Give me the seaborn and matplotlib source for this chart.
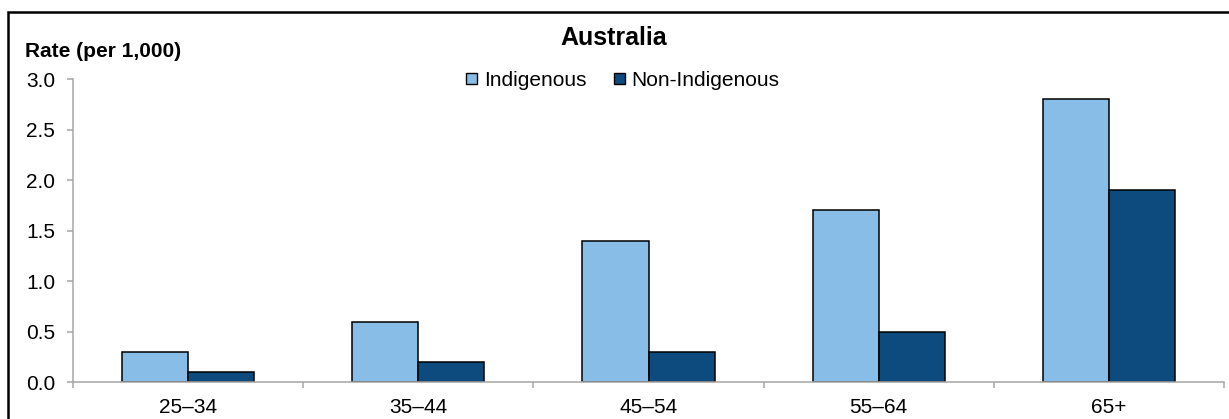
import matplotlib
matplotlib.use("Agg")
import matplotlib.pyplot as plt
import matplotlib.patches as mpatches
from matplotlib.ticker import FixedLocator
import seaborn as sns
import pandas as pd

# Rates per 1,000 by age group
age_groups = ["25–34", "35–44", "45–54", "55–64", "65+"]
indigenous = [0.3, 0.6, 1.4, 1.7, 2.8]
non_indigenous = [0.1, 0.2, 0.3, 0.5, 1.9]
series_names = ["Indigenous", "Non-Indigenous"]
colors = ["#87BDE6", "#0D4A7E"]
y_ticks = [0.0, 0.5, 1.0, 1.5, 2.0, 2.5, 3.0]

df = pd.DataFrame({
    "age": age_groups * 2,
    "rate": indigenous + non_indigenous,
    "group": [series_names[0]] * len(age_groups) + [series_names[1]] * len(age_groups),
})

sns.set_theme(style="white")
plt.rcParams["font.family"] = ["Liberation Sans", "DejaVu Sans"]
plt.rcParams["text.color"] = "black"

FS = 15
AXIS_GREY = "#A6A6A6"

fig = plt.figure(figsize=(12.29, 4.19), dpi=100)
ax = fig.add_axes([0.0594, 0.0876, 0.9366, 0.7238])

sns.barplot(data=df, x="age", y="rate", hue="group", order=age_groups,
            hue_order=series_names, palette=colors, width=0.574,
            edgecolor="black", linewidth=1.1, saturation=1, ax=ax, legend=False)

ax.set_xlim(-0.5, len(age_groups) - 0.5)
ax.set_ylim(0, 3.0)
ax.set_yticks(y_ticks)
ax.set_yticklabels([f"{v:.1f}" for v in y_ticks], fontsize=FS)
ax.set_xlabel("")
ax.set_ylabel("")
ax.tick_params(axis="x", which="major", length=0, labelsize=FS, pad=11)
ax.xaxis.set_minor_locator(FixedLocator([i - 0.5 for i in range(len(age_groups) + 1)]))
ax.tick_params(axis="x", which="minor", bottom=True, length=4.3, width=1.1, color=AXIS_GREY)
ax.tick_params(axis="y", left=True, length=4.3, width=1.1, color=AXIS_GREY, labelsize=FS, pad=8.5)
for t in ax.get_xticklabels() + ax.get_yticklabels():
    t.set_color("black")

for side in ["top", "right"]:
    ax.spines[side].set_visible(False)
for side in ["left", "bottom"]:
    ax.spines[side].set_color(AXIS_GREY)
    ax.spines[side].set_linewidth(1.1)

fig.text(0.4995, 0.8926, "Australia", ha="center", va="baseline", fontsize=18,
         fontweight="bold", color="black")
fig.text(0.0203, 0.8647, "Rate (per 1,000)", ha="left", va="baseline", fontsize=FS,
         fontweight="bold", color="black")

handles = [mpatches.Patch(facecolor=c, edgecolor="black", linewidth=1.0, label=n)
           for c, n in zip(colors, series_names)]
leg = fig.legend(handles=handles, loc="center", bbox_to_anchor=(0.507, 0.808), ncol=2,
                 frameon=False, fontsize=FS, handlelength=0.5, handleheight=0.5,
                 handletextpad=0.33, columnspacing=1.35, borderpad=0, borderaxespad=0)
for t in leg.get_texts():
    t.set_color("black")

# outer frame around the figure
fig.patches.append(mpatches.Rectangle((0.0065, -0.1), 1.2, 1.0714, transform=fig.transFigure,
                                      fill=False, edgecolor="black", linewidth=1.8))

fig.savefig("out.png", dpi=100)
